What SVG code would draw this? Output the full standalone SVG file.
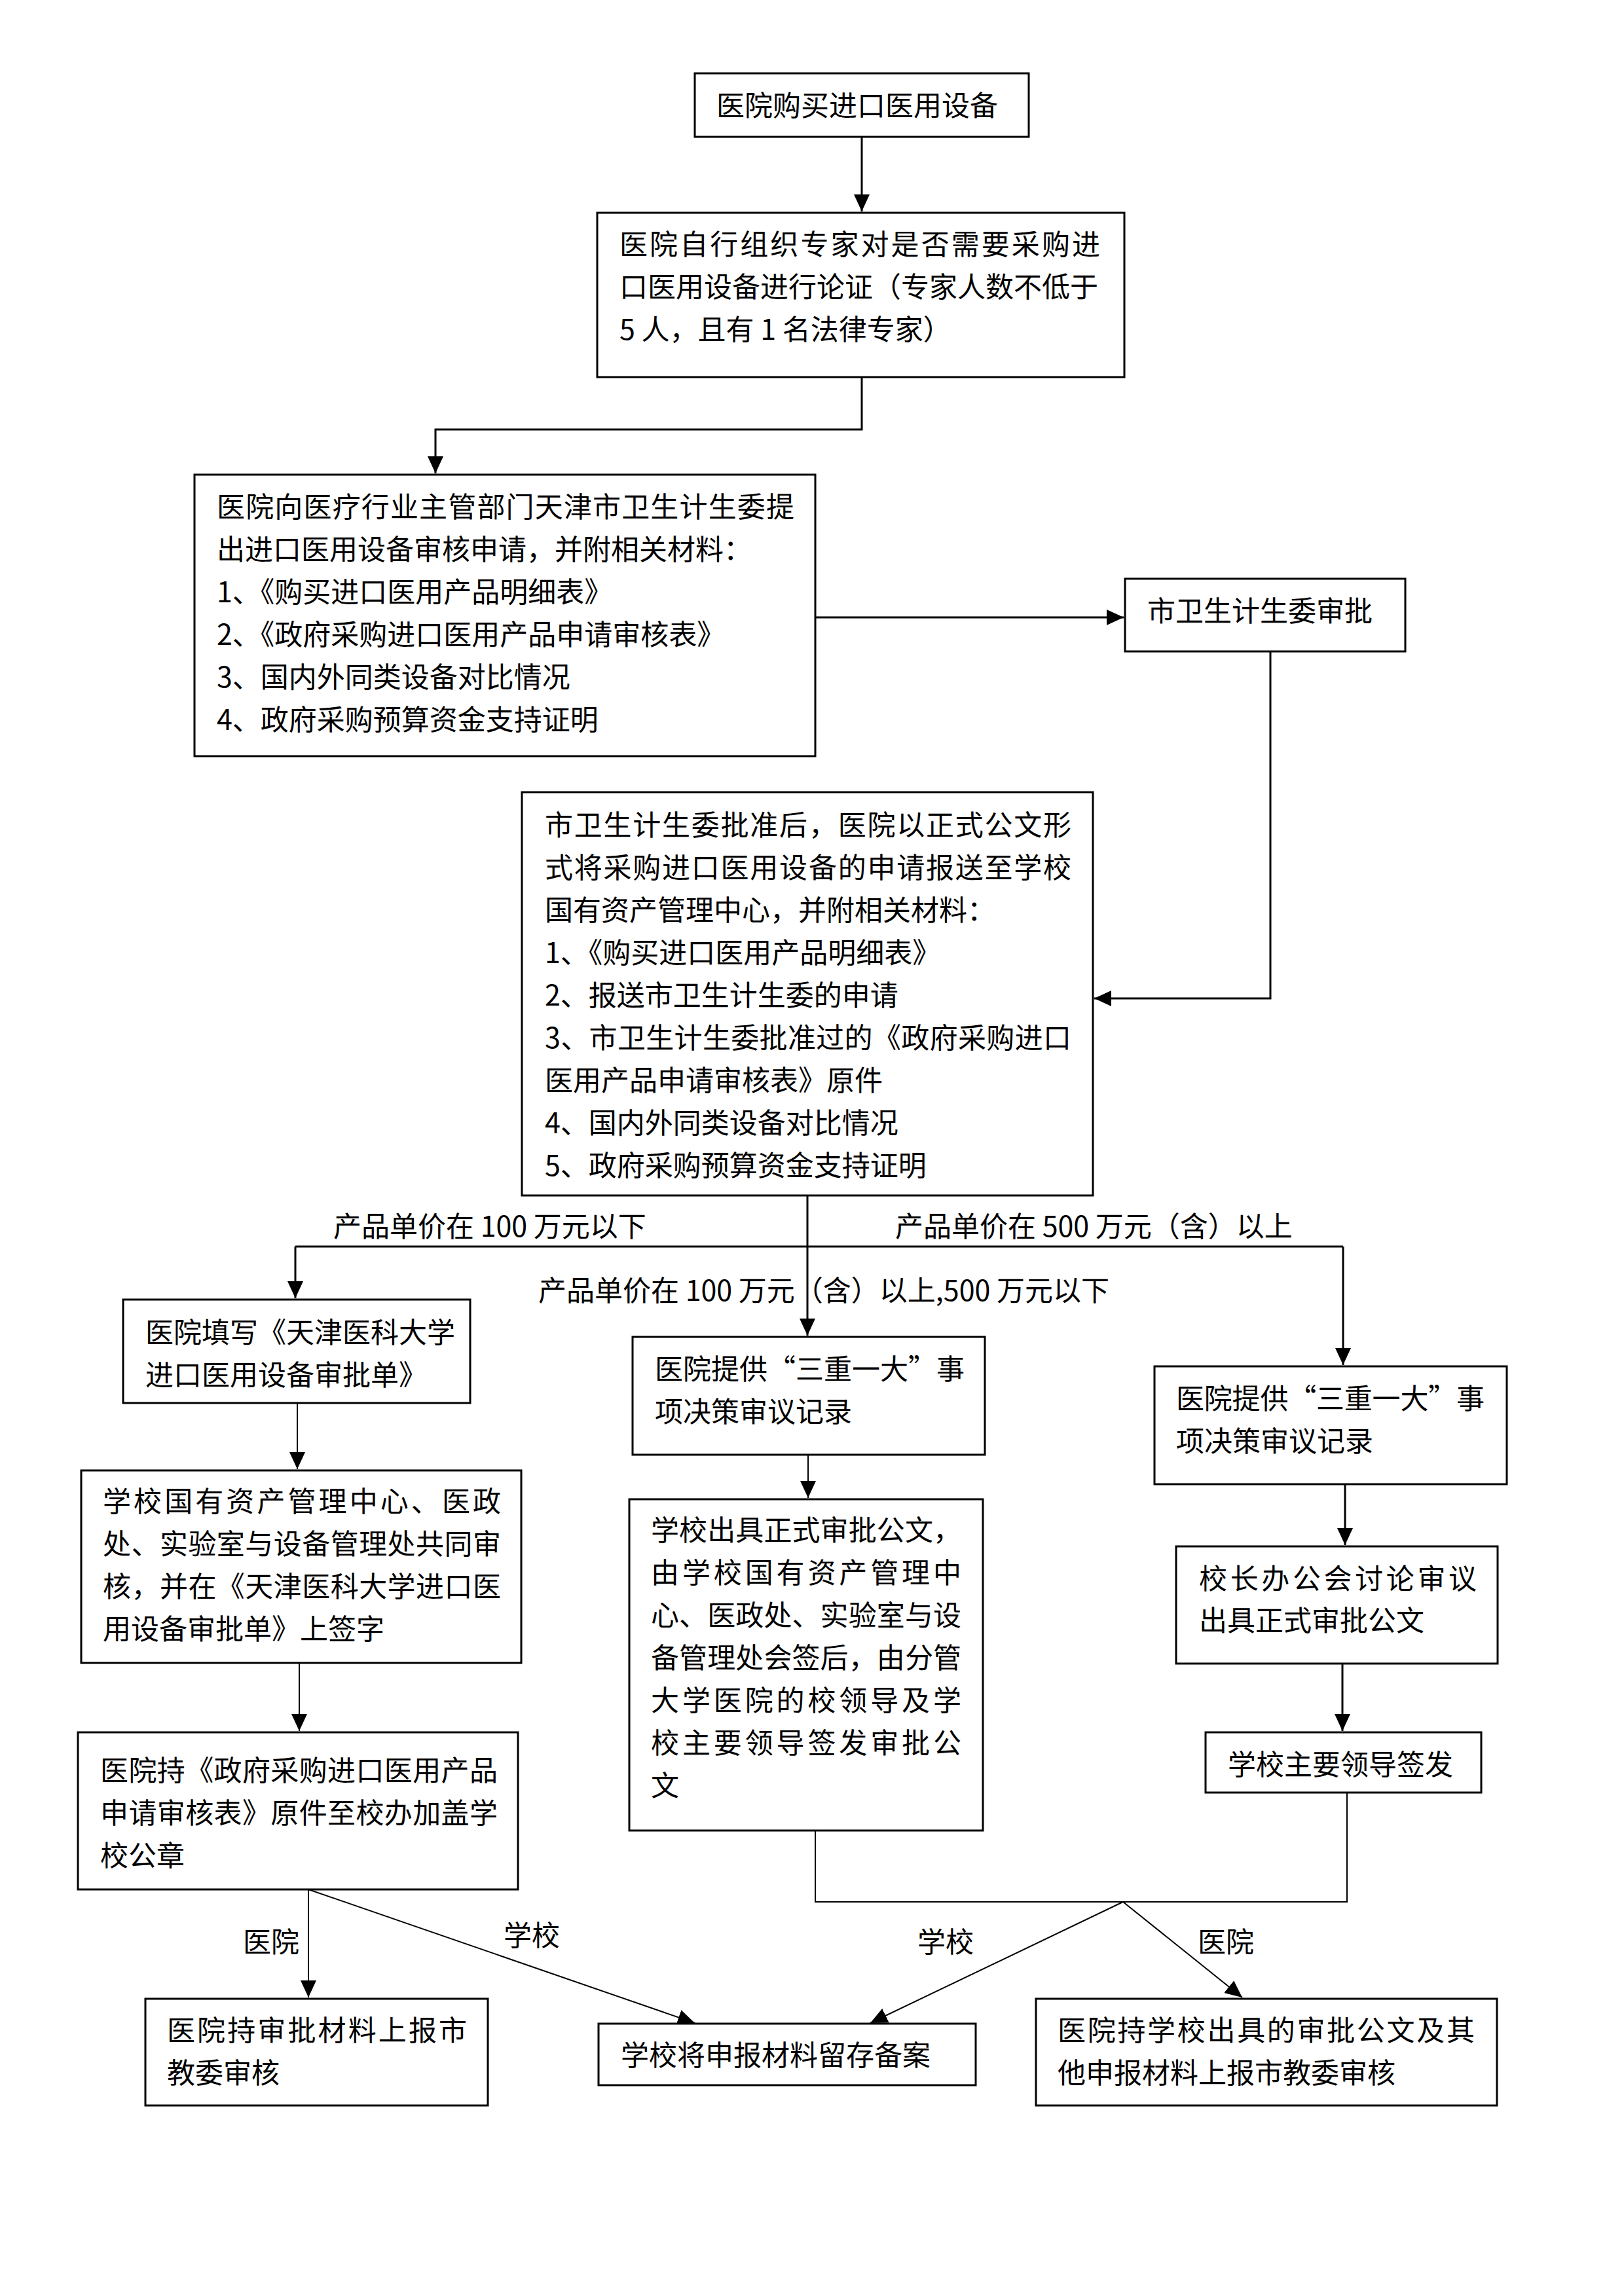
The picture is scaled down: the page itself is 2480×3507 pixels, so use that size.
<svg xmlns="http://www.w3.org/2000/svg" width="2480" height="3507" viewBox="0 0 2480 3507">
<style>
.box{fill:#fff;stroke:#000;stroke-width:3}
.t{font-family:"Noto Sans CJK SC","Liberation Sans",sans-serif;font-size:43px;fill:#000}
.c{fill:none;stroke:#000;stroke-width:3}
.ct{fill:none;stroke:#000;stroke-width:2}
</style>
<defs>
<marker id="ah" markerUnits="userSpaceOnUse" markerWidth="26" markerHeight="24" refX="26" refY="12" orient="auto">
<path d="M0,0 L26,12 L0,24 Z" fill="#000"/>
</marker>
</defs>
<rect width="2480" height="3507" fill="#fff"/>

<g id="connectors">
<path class="c" d="M1316 209 V323" marker-end="url(#ah)"/>
<path class="c" d="M1316 577 V656 H665 V723" marker-end="url(#ah)"/>
<path class="c" d="M1245 943 H1716" marker-end="url(#ah)"/>
<path class="c" d="M1940 995 V1525 H1671" marker-end="url(#ah)"/>
<path class="c" d="M1233 1826 V2040" marker-end="url(#ah)"/>
<path class="c" d="M451 1904 H2051"/>
<path class="c" d="M451 1904 V1983" marker-end="url(#ah)"/>
<path class="c" d="M2051 1904 V2085" marker-end="url(#ah)"/>
<path class="ct" d="M454 2143 V2244" marker-end="url(#ah)"/>
<path class="ct" d="M457 2540 V2644" marker-end="url(#ah)"/>
<path class="ct" d="M1234 2222 V2288" marker-end="url(#ah)"/>
<path class="c" d="M2054 2267 V2360" marker-end="url(#ah)"/>
<path class="c" d="M2050 2541 V2644" marker-end="url(#ah)"/>
<path class="ct" d="M1245 2796 V2905 H2057 V2738"/>
<path class="ct" d="M471 2886 V3051" marker-end="url(#ah)"/>
<path class="ct" d="M471 2886 L1061 3090" marker-end="url(#ah)"/>
<path class="ct" d="M1715 2905 L1329 3090" marker-end="url(#ah)"/>
<path class="ct" d="M1715 2905 L1897 3051" marker-end="url(#ah)"/>
<text class="t" x="509" y="1889">产品单价在 100 万元以下</text>
<text class="t" x="1367" y="1889">产品单价在 500 万元（含）以上</text>
<text class="t" x="822" y="1987">产品单价在 100 万元（含）以上,500 万元以下</text>
<text class="t" x="371" y="2982">医院</text>
<text class="t" x="769" y="2972">学校</text>
<text class="t" x="1401" y="2982">学校</text>
<text class="t" x="1829" y="2982">医院</text>
</g>

<g id="n1">
<rect class="box" x="1061" y="112" width="510" height="97"/>
<text class="t" x="1094" y="177">医院购买进口医用设备</text>
</g>

<g id="n2">
<rect class="box" x="912" y="325" width="805" height="251"/>
<text class="t" x="946" y="389" textLength="734" lengthAdjust="spacing">医院自行组织专家对是否需要采购进</text>
<text class="t" x="946" y="454">口医用设备进行论证（专家人数不低于</text>
<text class="t" x="946" y="519">5 人，且有 1 名法律专家）</text>
</g>

<g id="n3">
<rect class="box" x="297" y="725" width="948" height="430"/>
<text class="t" x="331" y="790" textLength="882" lengthAdjust="spacing">医院向医疗行业主管部门天津市卫生计生委提</text>
<text class="t" x="331" y="855">出进口医用设备审核申请，并附相关材料：</text>
<text class="t" x="331" y="920">1、《购买进口医用产品明细表》</text>
<text class="t" x="331" y="985">2、《政府采购进口医用产品申请审核表》</text>
<text class="t" x="331" y="1050">3、国内外同类设备对比情况</text>
<text class="t" x="331" y="1115">4、政府采购预算资金支持证明</text>
</g>

<g id="n4">
<rect class="box" x="1718" y="884" width="428" height="111"/>
<text class="t" x="1752" y="949">市卫生计生委审批</text>
</g>

<g id="n5">
<rect class="box" x="797" y="1210" width="872" height="616"/>
<text class="t" x="832" y="1276" textLength="804" lengthAdjust="spacing">市卫生计生委批准后，医院以正式公文形</text>
<text class="t" x="832" y="1341" textLength="804" lengthAdjust="spacing">式将采购进口医用设备的申请报送至学校</text>
<text class="t" x="832" y="1406">国有资产管理中心，并附相关材料：</text>
<text class="t" x="832" y="1471">1、《购买进口医用产品明细表》</text>
<text class="t" x="832" y="1536">2、报送市卫生计生委的申请</text>
<text class="t" x="832" y="1601" textLength="804" lengthAdjust="spacing">3、市卫生计生委批准过的《政府采购进口</text>
<text class="t" x="832" y="1666">医用产品申请审核表》原件</text>
<text class="t" x="832" y="1731">4、国内外同类设备对比情况</text>
<text class="t" x="832" y="1796">5、政府采购预算资金支持证明</text>
</g>

<g id="n6">
<rect class="box" x="188" y="1985" width="530" height="158"/>
<text class="t" x="222" y="2051">医院填写《天津医科大学</text>
<text class="t" x="222" y="2116">进口医用设备审批单》</text>
</g>

<g id="n7">
<rect class="box" x="966" y="2042" width="538" height="180"/>
<text class="t" x="1000" y="2107" textLength="473" lengthAdjust="spacing">医院提供“三重一大”事</text>
<text class="t" x="1000" y="2172">项决策审议记录</text>
</g>

<g id="n8">
<rect class="box" x="1763" y="2087" width="538" height="180"/>
<text class="t" x="1796" y="2152" textLength="471" lengthAdjust="spacing">医院提供“三重一大”事</text>
<text class="t" x="1796" y="2217">项决策审议记录</text>
</g>

<g id="n9">
<rect class="box" x="124" y="2246" width="672" height="294"/>
<text class="t" x="157" y="2309" textLength="608" lengthAdjust="spacing">学校国有资产管理中心、医政</text>
<text class="t" x="157" y="2374" textLength="608" lengthAdjust="spacing">处、实验室与设备管理处共同审</text>
<text class="t" x="157" y="2439" textLength="608" lengthAdjust="spacing">核，并在《天津医科大学进口医</text>
<text class="t" x="157" y="2504">用设备审批单》上签字</text>
</g>

<g id="n10">
<rect class="box" x="119" y="2646" width="672" height="240"/>
<text class="t" x="153" y="2720" textLength="607" lengthAdjust="spacing">医院持《政府采购进口医用产品</text>
<text class="t" x="153" y="2785" textLength="607" lengthAdjust="spacing">申请审核表》原件至校办加盖学</text>
<text class="t" x="153" y="2850">校公章</text>
</g>

<g id="n11">
<rect class="box" x="961" y="2290" width="540" height="506"/>
<text class="t" x="994" y="2353" textLength="474" lengthAdjust="spacing">学校出具正式审批公文，</text>
<text class="t" x="994" y="2418" textLength="474" lengthAdjust="spacing">由学校国有资产管理中</text>
<text class="t" x="994" y="2483" textLength="474" lengthAdjust="spacing">心、医政处、实验室与设</text>
<text class="t" x="994" y="2548" textLength="474" lengthAdjust="spacing">备管理处会签后，由分管</text>
<text class="t" x="994" y="2613" textLength="474" lengthAdjust="spacing">大学医院的校领导及学</text>
<text class="t" x="994" y="2678" textLength="474" lengthAdjust="spacing">校主要领导签发审批公</text>
<text class="t" x="994" y="2743">文</text>
</g>

<g id="n12">
<rect class="box" x="1796" y="2362" width="491" height="179"/>
<text class="t" x="1831" y="2427" textLength="424" lengthAdjust="spacing">校长办公会讨论审议</text>
<text class="t" x="1831" y="2491">出具正式审批公文</text>
</g>

<g id="n13">
<rect class="box" x="1841" y="2646" width="421" height="92"/>
<text class="t" x="1875" y="2711">学校主要领导签发</text>
</g>

<g id="n14">
<rect class="box" x="222" y="3053" width="523" height="163"/>
<text class="t" x="255" y="3117" textLength="458" lengthAdjust="spacing">医院持审批材料上报市</text>
<text class="t" x="255" y="3182">教委审核</text>
</g>

<g id="n15">
<rect class="box" x="914" y="3091" width="576" height="94"/>
<text class="t" x="948" y="3155">学校将申报材料留存备案</text>
</g>

<g id="n16">
<rect class="box" x="1582" y="3053" width="704" height="163"/>
<text class="t" x="1615" y="3117" textLength="637" lengthAdjust="spacing">医院持学校出具的审批公文及其</text>
<text class="t" x="1615" y="3182">他申报材料上报市教委审核</text>
</g>
</svg>
